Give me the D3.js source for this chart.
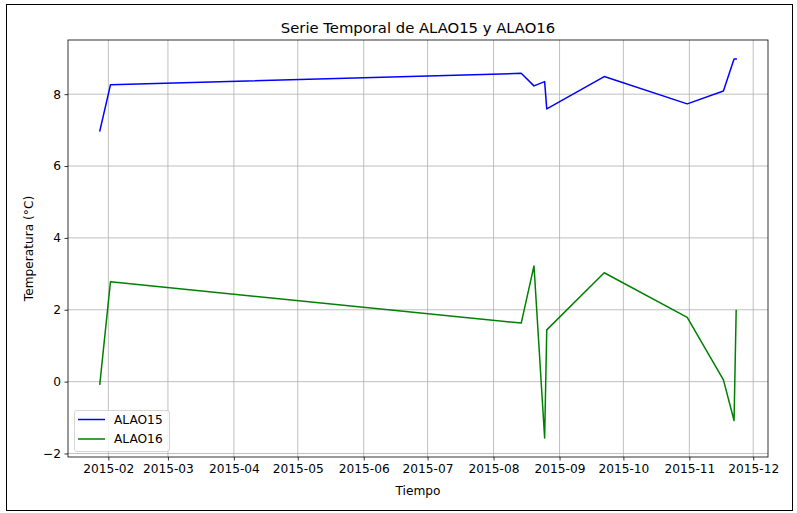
<!DOCTYPE html>
<html><head><meta charset="utf-8">
<script src="https://cdn.jsdelivr.net/npm/d3@7"></script>
<style>body{margin:0;background:#fff;} svg{display:block;font-family:"DejaVu Sans",sans-serif;}</style>
</head><body>
<svg id="c" width="797" height="513"></svg>
<script>
const dates = ["2015-01-28","2015-02-02","2015-08-14","2015-08-20","2015-08-25","2015-08-26","2015-09-22","2015-10-31","2015-11-17","2015-11-22","2015-11-23"];
const alao15 = [6.98, 8.26, 8.58, 8.23, 8.35, 7.59, 8.49, 7.73, 8.09, 8.98, 8.98];
const alao16 = [-0.07, 2.78, 1.63, 3.22, -1.57, 1.44, 3.03, 1.79, 0.05, -1.08, 1.98];
const yTicks = [-2, 0, 2, 4, 6, 8];
const xTickLabels = ["2015-02","2015-03","2015-04","2015-05","2015-06","2015-07","2015-08","2015-09","2015-10","2015-11","2015-12"];
const seriesNames = ["ALAO15","ALAO16"];
const seriesColors = ["#0000ff","#008000"];
const titleText = "Serie Temporal de ALAO15 y ALAO16";
const xLabel = "Tiempo";
const yLabel = "Temperatura (°C)";

const FS = 12.2;
const parse = d3.timeParse("%Y-%m-%d");
const parseM = d3.timeParse("%Y-%m");
const X = dates.map(parse);
const svg = d3.select("#c");
const W = 797, H = 513;
const m = {l:68, t:40, r:797-768, b:513-457};
const pw = W - m.l - m.r, ph = H - m.t - m.b;

// outer frame
svg.append("rect").attr("x",6.5).attr("y",4.5).attr("width",786).attr("height",506)
  .attr("fill","none").attr("stroke","#000").attr("stroke-width",1);

const xe = d3.extent(X), xr = xe[1]-xe[0];
const x = d3.scaleTime().domain([new Date(+xe[0]-0.05*xr), new Date(+xe[1]+0.05*xr)]).range([m.l, m.l+pw]);
const allY = alao15.concat(alao16);
const ye = d3.extent(allY), yr = ye[1]-ye[0];
const y = d3.scaleLinear().domain([ye[0]-0.05*yr, ye[1]+0.05*yr]).range([m.t+ph, m.t]);

const xt = xTickLabels.map(parseM);
// grid
const g = svg.append("g");
g.selectAll(".gx").data(xt).join("line").attr("x1",d=>x(d)).attr("x2",d=>x(d))
  .attr("y1",m.t).attr("y2",m.t+ph).attr("stroke","#b0b0b0").attr("stroke-width",0.8);
g.selectAll(".gy").data(yTicks).join("line").attr("y1",d=>y(d)).attr("y2",d=>y(d))
  .attr("x1",m.l).attr("x2",m.l+pw).attr("stroke","#b0b0b0").attr("stroke-width",0.8);

// lines
const series = [alao15, alao16];
svg.append("defs").append("clipPath").attr("id","cp").append("rect")
  .attr("x",m.l).attr("y",m.t).attr("width",pw).attr("height",ph);
series.forEach((s,i)=>{
  const line = d3.line().x((d,j)=>x(X[j])).y(d=>y(d));
  svg.append("path").datum(s).attr("d",line).attr("fill","none")
    .attr("stroke",seriesColors[i]).attr("stroke-width",1.5).attr("stroke-linejoin","round").attr("stroke-linecap","square")
    .attr("clip-path","url(#cp)");
});

// axes
const xAxis = d3.axisBottom(x).tickValues(xt).tickFormat(d3.timeFormat("%Y-%m")).tickSize(3.5).tickPadding(3.5);
const yAxis = d3.axisLeft(y).tickValues(yTicks).tickFormat(d=>d<0?"\u2212"+Math.abs(d):d).tickSize(3.5).tickPadding(3.5);
const ax = svg.append("g").attr("transform",`translate(0,${m.t+ph})`).call(xAxis);
const ay = svg.append("g").attr("transform",`translate(${m.l},0)`).call(yAxis);
[ax,ay].forEach(a=>{
  a.select(".domain").remove();
  a.selectAll("line").attr("stroke","#000").attr("stroke-width",0.8);
  a.selectAll("text").attr("font-family","DejaVu Sans").attr("font-size",FS).attr("fill","#000");
});
svg.append("rect").attr("x",m.l).attr("y",m.t).attr("width",pw).attr("height",ph)
  .attr("fill","none").attr("stroke","#000").attr("stroke-width",0.8);

// labels
svg.append("text").attr("x",m.l+pw/2).attr("y",33).attr("text-anchor","middle")
  .attr("font-size",14.8).text(titleText);
svg.append("text").attr("x",m.l+pw/2).attr("y",495).attr("text-anchor","middle")
  .attr("font-size",FS).text(xLabel);
svg.append("text").attr("transform",`translate(33,${m.t+ph/2}) rotate(-90)`).attr("text-anchor","middle")
  .attr("font-size",FS).text(yLabel);

// legend
const lg = svg.append("g");
lg.append("rect").attr("x",74.5).attr("y",410.5).attr("width",95).attr("height",41).attr("rx",2.5)
  .attr("fill","#fff").attr("fill-opacity",0.8).attr("stroke","#cccccc").attr("stroke-width",0.8);
seriesNames.forEach((n,i)=>{
  const yy = 419.5 + i*19.5;
  lg.append("line").attr("x1",78).attr("x2",105).attr("y1",yy).attr("y2",yy)
    .attr("stroke",seriesColors[i]).attr("stroke-width",1.5);
  lg.append("text").attr("x",114).attr("y",yy+4.3).attr("font-size",FS).text(n);
});
</script>
</body></html>
